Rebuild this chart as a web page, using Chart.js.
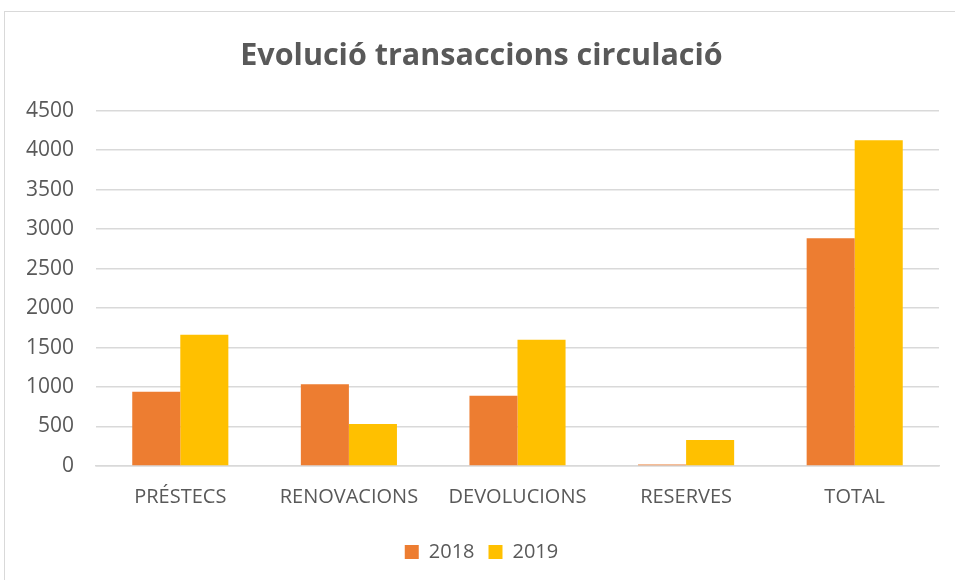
<!DOCTYPE html>
<html lang="ca">
<head>
  <meta charset="UTF-8">
  <title>Evolució transaccions circulació</title>
  <script src="https://cdn.jsdelivr.net/npm/chart.js"></script>
  <style>
    html, body {
      margin: 0;
      padding: 0;
      background: #fff;
      overflow: hidden;
    }
    #frame {
      position: absolute;
      left: 4px;
      top: 11px;
      width: 990px;
      height: 600px;
      border: 1px solid #d9d9d9;
      box-sizing: border-box;
    }
    #chart-container {
      position: absolute;
      left: 0;
      top: 0;
      width: 955px;
      height: 580px;
    }
  </style>
</head>
<body>
  <div id="frame"></div>
  <div id="chart-container">
    <canvas id="circChart"></canvas>
  </div>

  <script>
    // Dades llegides del gràfic
    const categories = ['PRÉSTECS', 'RENOVACIONS', 'DEVOLUCIONS', 'RESERVES', 'TOTAL'];
    const values2018 = [940, 1035, 890, 20, 2885];
    const values2019 = [1662, 533, 1600, 328, 4123];
    const yTicks = [0, 500, 1000, 1500, 2000, 2500, 3000, 3500, 4000, 4500];

    const textColor = '#595959';
    const fontFamily = '"Open Sans", "Liberation Sans", sans-serif';

    const ctx = document.getElementById('circChart').getContext('2d');
    const circChart = new Chart(ctx, {
      type: 'bar',
      data: {
        labels: categories,
        datasets: [
          {
            label: '2018',
            data: values2018,
            backgroundColor: '#ED7D31',
            borderWidth: 0
          },
          {
            label: '2019',
            data: values2019,
            backgroundColor: '#FFC000',
            borderWidth: 0
          }
        ]
      },
      options: {
        responsive: true,
        maintainAspectRatio: false,
        animation: false,
        layout: {
          // a bit of left padding pushes title and legend to the right
          padding: { left: 24, right: 16, top: 0, bottom: 8 }
        },
        datasets: {
          bar: {
            categoryPercentage: 0.57,
            barPercentage: 1.0
          }
        },
        plugins: {
          title: {
            display: true,
            text: 'Evolució transaccions circulació',
            color: textColor,
            font: { family: fontFamily, size: 30.5, weight: 'bold' },
            padding: { top: 38, bottom: 36 }
          },
          legend: {
            position: 'bottom',
            labels: {
              color: textColor,
              font: { family: fontFamily, size: 20 },
              boxWidth: 14,
              boxHeight: 14,
              padding: 14
            }
          },
          tooltip: { enabled: false }
        },
        scales: {
          x: {
            grid: { display: false, drawTicks: false },
            border: { display: true, color: '#d9d9d9', width: 1.5 },
            ticks: {
              color: textColor,
              font: { family: fontFamily, size: 20 },
              padding: 19,
              maxRotation: 0
            }
          },
          y: {
            min: 0,
            max: 4500,
            afterFit: function(scale) { scale.width = 72; },
            afterBuildTicks: function(scale) {
              scale.ticks = yTicks.map(v => ({ value: v }));
            },
            grid: { color: '#d9d9d9', lineWidth: 1.5, drawTicks: false },
            border: { display: false },
            ticks: {
              color: textColor,
              font: { family: fontFamily, size: 21 },
              padding: 22,
              callback: function(value) { return String(value); }
            }
          }
        }
      }
    });
  </script>
</body>
</html>
